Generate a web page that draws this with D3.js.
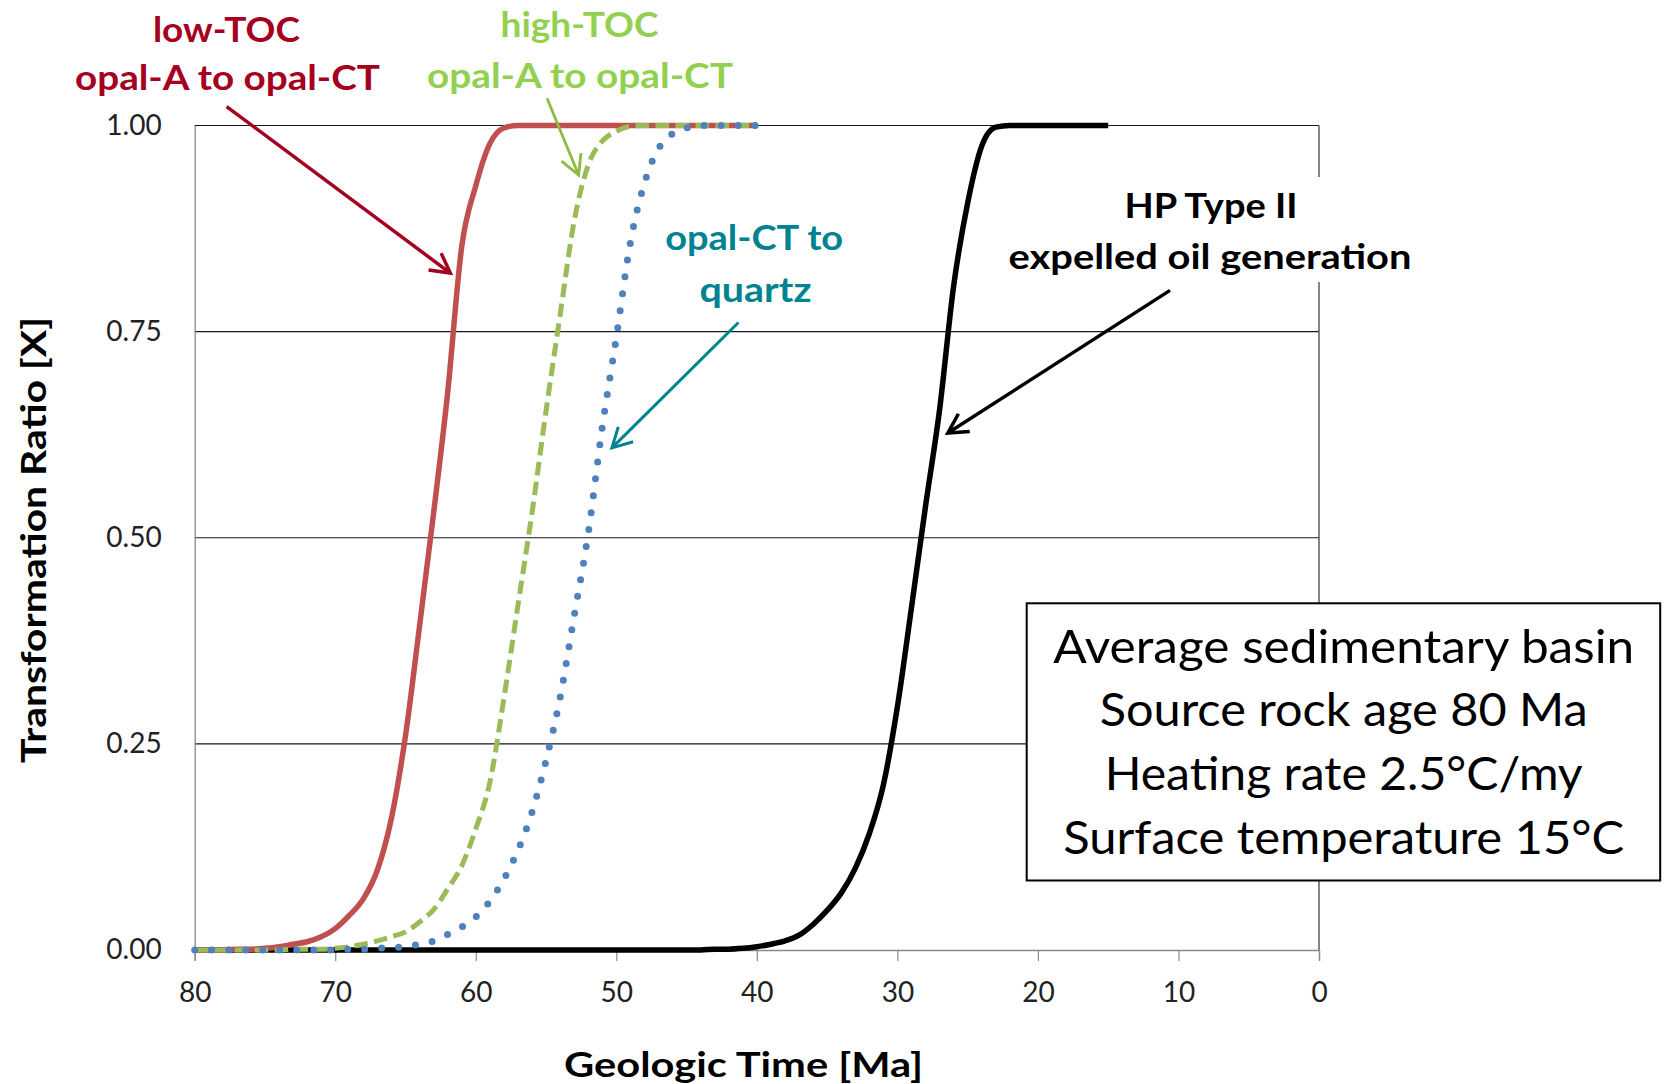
<!DOCTYPE html>
<html>
<head>
<meta charset="utf-8">
<script src="https://cdn.jsdelivr.net/npm/d3@7"></script>
<style>
  html, body { margin: 0; padding: 0; background: #fff; }
  svg { display: block; font-family: Lato, "Open Sans", sans-serif; }
</style>
</head>
<body>
<svg id="chart" width="1668" height="1084"></svg>
<script>
// Geologic time axis (Ma), sampled every 1 Ma
const opalAges = [80,79,78,77,76,75,74,73,72,71,70,69,68,67,66,65,64,63,62,61,60,
                  59,58,57,56,55,54,53,52,51,50,49,48,47,46,45,44,43,42,41,40];
const hpAges = [80,79,78,77,76,75,74,73,72,71,70,69,68,67,66,65,64,63,62,61,60,
                59,58,57,56,55,54,53,52,51,50,49,48,47,46,45,44,43,42,41,40,
                39,38,37,36,35,34,33,32,31,30,29,28,27,26,25,24,23,22,21,20,
                19,18,17,16,15];

// Transformation ratio X for each reaction
const lowTOC = [0,0,0,0.001,0.001,0.002,0.004,0.007,0.010,0.016,0.026,0.042,0.062,0.097,
                0.160,0.260,0.393,0.530,0.676,0.853,0.927,0.978,0.997,
                1,1,1,1,1,1,1,1,1,1,1,1,1,1,1,1,1,1];
const highTOC = [0,0,0,0,0,0,0,0.001,0.001,0.001,0.002,0.004,0.007,0.011,0.016,0.022,
                 0.034,0.049,0.074,0.102,0.147,0.203,0.305,0.418,0.530,0.654,0.770,0.884,
                 0.952,0.981,0.993,0.999,1,1,1,1,1,1,1,1,1];
const ctToQuartz = [0,0,0,0,0,0,0,0,0,0,0,0.001,0.001,0.002,0.003,0.004,0.007,0.011,0.019,
                    0.028,0.040,0.059,0.086,0.121,0.167,0.230,0.306,0.405,0.505,0.634,0.743,
                    0.858,0.930,0.972,0.990,0.997,1,1,1,1,1];
const hpTypeII = [0,0,0,0,0,0,0,0,0,0,0,0,0,0,0,0,0,0,0,0,0,
                  0,0,0,0,0,0,0,0,0,0,0,0,0,0,0,0,
                  0.001,0.001,0.002,0.004,0.007,0.011,0.018,0.031,0.048,0.069,0.099,0.141,
                  0.200,0.295,0.415,0.538,0.655,0.805,0.906,0.975,0.998,
                  1,1,1,1,1,1,1,1];

const xTicks = [80,70,60,50,40,30,20,10,0];
const yTicks = [0,0.25,0.5,0.75,1];

const boxLines = ["Average sedimentary basin", "Source rock age 80 Ma",
                  "Heating rate 2.5\u00B0C/my", "Surface temperature 15\u00B0C"];

// Plot frame
const L = 194.7, R = 1319, T = 125.5, B = 950;
const svg = d3.select("#chart");
const x = d3.scaleLinear().domain([80, 0]).range([L, R]);
const y = d3.scaleLinear().domain([0, 1]).range([B, T]);

// Horizontal gridlines (the 1.00 line doubles as the top border)
svg.append("g").selectAll("line").data(yTicks.filter(d => d > 0)).join("line")
  .attr("x1", L).attr("x2", R)
  .attr("y1", d => y(d)).attr("y2", d => y(d))
  .attr("stroke", "#1a1a1a").attr("stroke-width", 1.2);

// Right border
svg.append("line").attr("x1", R).attr("x2", R).attr("y1", T).attr("y2", B)
  .attr("stroke", "#444").attr("stroke-width", 1.3);

// Axes
const xAxis = svg.append("g").attr("transform", `translate(0,${B})`)
  .call(d3.axisBottom(x).tickValues(xTicks).tickSize(11).tickPadding(21).tickFormat(d3.format("d")));
const yAxis = svg.append("g").attr("transform", `translate(${L},0)`)
  .call(d3.axisLeft(y).tickValues(yTicks).tickSize(0).tickPadding(33).tickFormat(d3.format(".2f")));
[xAxis, yAxis].forEach(g => {
  g.select(".domain").attr("stroke", "#8a8a8a").attr("stroke-width", 1.3);
  g.selectAll(".tick line").attr("stroke", "#8a8a8a").attr("stroke-width", 1.2);
  g.selectAll(".tick text").attr("fill", "#222").attr("font-size", 28)
    .attr("font-family", "Lato, sans-serif");
});

// Curves
const line = d3.line().curve(d3.curveMonotoneX).x(d => x(d[0])).y(d => y(d[1]));
const series = [
  { ages: hpAges,   vals: hpTypeII,  color: "#000000", width: 5.5, dash: null },
  { ages: opalAges, vals: lowTOC,    color: "#C0504D", width: 5.5, dash: null },
  { ages: opalAges, vals: highTOC,   color: "#9BBB59", width: 5,   dash: "13.5 6.5" },
  { ages: opalAges, vals: ctToQuartz,color: "#4F81BD", width: 7,   dash: "0 17" }
];
series.forEach(s => {
  const pts = s.ages.map((a, i) => [a, s.vals[i]]);
  svg.append("path").datum(pts).attr("d", line)
    .attr("fill", "none").attr("stroke", s.color).attr("stroke-width", s.width)
    .attr("stroke-linejoin", "round")
    .attr("stroke-linecap", s.dash === "0 17" ? "round" : "butt")
    .attr("stroke-dasharray", s.dash);
});

// Text helper: centred text fitted to a given width
function label(g, txt, cx, base, w, size, weight, color) {
  return g.append("text").attr("x", cx).attr("y", base)
    .attr("text-anchor", "middle").attr("font-size", size).attr("font-weight", weight)
    .attr("fill", color).attr("textLength", w).attr("lengthAdjust", "spacingAndGlyphs")
    .text(txt);
}

// Annotation arrows, given in chart coordinates [Ma, X]
const arrows = [
  { from: [77.73, 1.023], to: [61.81, 0.821], color: "#A50021", width: 3.5 },
  { from: [54.93, 1.033], to: [52.68, 0.940], color: "#8DBB42", width: 2.8 },
  { from: [41.31, 0.761], to: [50.31, 0.609], color: "#008391", width: 3 },
  { from: [10.60, 0.800], to: [26.41, 0.627], color: "#000000", width: 3.5 }
];

// HP label sits on a white panel that interrupts the right border
svg.append("rect").attr("x", 1000).attr("y", 177).attr("width", 420).attr("height", 105)
  .attr("fill", "#fff");

arrows.forEach(a => {
  const x0 = x(a.from[0]), y0 = y(a.from[1]), x1 = x(a.to[0]), y1 = y(a.to[1]);
  const ang = Math.atan2(y1 - y0, x1 - x0), len = 22, spread = Math.PI / 6.3;
  const w1 = [x1 - len * Math.cos(ang - spread), y1 - len * Math.sin(ang - spread)];
  const w2 = [x1 - len * Math.cos(ang + spread), y1 - len * Math.sin(ang + spread)];
  svg.append("line").attr("x1", x0).attr("y1", y0).attr("x2", x1).attr("y2", y1)
    .attr("stroke", a.color).attr("stroke-width", a.width);
  svg.append("path").attr("d", `M${w1[0]},${w1[1]}L${x1},${y1}L${w2[0]},${w2[1]}`)
    .attr("fill", "none").attr("stroke", a.color).attr("stroke-width", a.width)
    .attr("stroke-linejoin", "miter");
});

const ann = svg.append("g");
label(ann, "low-TOC", 226.4, 41.7, 147, 35, 700, "#A50021");
label(ann, "opal-A to opal-CT", 227.5, 90, 305, 35, 700, "#A50021");
label(ann, "high-TOC", 579.5, 36.7, 158, 35, 700, "#92D050");
label(ann, "opal-A to opal-CT", 580, 88.3, 306, 35, 700, "#92D050");
label(ann, "opal-CT to", 754.2, 250, 178, 35, 700, "#008391");
label(ann, "quartz", 755.5, 301.7, 112, 35, 700, "#008391");
label(ann, "HP Type II", 1211, 218.3, 173, 35, 700, "#000");
label(ann, "expelled oil generation", 1210, 268.5, 403, 35, 700, "#000");

// Basin conditions box
const box = svg.append("g");
box.append("rect").attr("x", 1026.7).attr("y", 603.3).attr("width", 633.5).attr("height", 277.2)
  .attr("fill", "#fff").attr("stroke", "#000").attr("stroke-width", 2);
const boxWidths = [581, 488, 478, 561];
const boxBase = [663, 726, 790, 853.5];
boxLines.forEach((t, i) => label(box, t, 1343.7, boxBase[i], boxWidths[i], 47, 400, "#000"));

// Axis titles
label(svg, "Geologic Time [Ma]", 743.6, 1077, 359, 35, 700, "#000");
svg.append("text").attr("transform", "translate(45.5,540) rotate(-90)")
  .attr("text-anchor", "middle").attr("font-size", 35).attr("font-weight", 700)
  .attr("fill", "#000").attr("textLength", 446).attr("lengthAdjust", "spacingAndGlyphs")
  .text("Transformation Ratio [X]");
</script>
</body>
</html>
